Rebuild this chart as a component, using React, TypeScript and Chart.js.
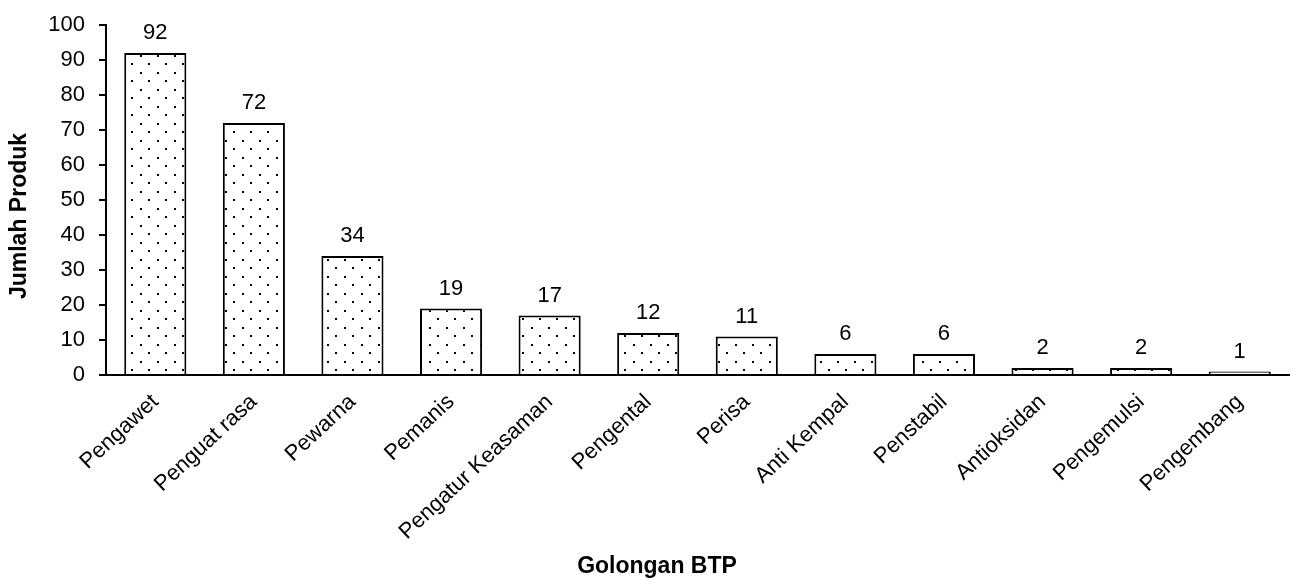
import React, { useEffect, useRef } from "react";
import { Chart, registerables } from "chart.js";

Chart.register(...registerables);

const categories = [
  "Pengawet",
  "Penguat rasa",
  "Pewarna",
  "Pemanis",
  "Pengatur Keasaman",
  "Pengental",
  "Perisa",
  "Anti Kempal",
  "Penstabil",
  "Antioksidan",
  "Pengemulsi",
  "Pengembang",
];
const values = [92, 72, 34, 19, 17, 12, 11, 6, 6, 2, 2, 1];
const yTicks = [0, 10, 20, 30, 40, 50, 60, 70, 80, 90, 100];
const xTitle = "Golongan BTP";
const yTitle = "Jumlah Produk";

const FONT = "'Liberation Sans', Arial, sans-serif";

function makePattern(): CanvasPattern | string {
  const c = document.createElement("canvas");
  c.width = 17;
  c.height = 17;
  const ctx = c.getContext("2d");
  if (!ctx) return "#fff";
  ctx.fillStyle = "#ffffff";
  ctx.fillRect(0, 0, 17, 17);
  ctx.fillStyle = "#000000";
  ctx.fillRect(4, 4, 2, 2);
  ctx.fillRect(12, 12, 2, 2);
  const p = ctx.createPattern(c, "repeat");
  return p || "#fff";
}

const valueLabels = {
  id: "valueLabels",
  afterDatasetsDraw(chart: any) {
    const ctx = chart.ctx;
    const meta = chart.getDatasetMeta(0);
    ctx.save();
    ctx.fillStyle = "#000";
    ctx.font = `22px ${FONT}`;
    ctx.textAlign = "center";
    ctx.textBaseline = "bottom";
    meta.data.forEach((bar: any, i: number) => {
      ctx.fillText(String(values[i]), bar.x, bar.y - 9);
    });
    ctx.restore();
  },
};

const axisTitles = {
  id: "axisTitles",
  afterDraw(chart: any) {
    const ctx = chart.ctx;
    ctx.save();
    ctx.fillStyle = "#000";
    ctx.font = `bold 23px ${FONT}`;
    ctx.textAlign = "center";
    ctx.textBaseline = "middle";
    ctx.fillText(xTitle, 657, 567);
    ctx.translate(20, 216);
    ctx.rotate(-Math.PI / 2);
    ctx.fillText(yTitle, 0, 0);
    ctx.restore();
  },
};

export default function App() {
  const ref = useRef<HTMLCanvasElement>(null);
  useEffect(() => {
    document.body.style.margin = "0";
    if (!ref.current) return;
    const chart = new Chart(ref.current, {
      type: "bar",
      data: {
        labels: categories,
        datasets: [
          {
            data: values,
            backgroundColor: makePattern() as any,
            borderColor: "#000",
            borderWidth: 2,
            borderSkipped: "bottom",
            barPercentage: 0.63,
            categoryPercentage: 1,
          },
        ],
      },
      options: {
        animation: false,
        responsive: false,
        maintainAspectRatio: false,
        layout: { padding: { top: 25, right: 4, left: 0, bottom: 0 } },
        plugins: {
          legend: { display: false },
          tooltip: { enabled: false },
        },
        scales: {
          x: {
            grid: { display: false, drawTicks: false },
            border: { display: true, color: "#000", width: 2 },
            ticks: {
              color: "#000",
              font: { family: FONT, size: 22 },
              maxRotation: 43,
              minRotation: 43,
              padding: 14,
              autoSkip: false,
            },
            afterFit(scale: any) {
              scale.height = 581 - 375;
            },
          },
          y: {
            min: 0,
            max: 100,
            afterBuildTicks(scale: any) {
              scale.ticks = yTicks.map((v) => ({ value: v }));
            },
            grid: {
              display: true,
              drawOnChartArea: false,
              drawTicks: true,
              tickLength: 7,
              color: "#000",
              lineWidth: 2,
            },
            border: { display: true, color: "#000", width: 2 },
            ticks: {
              color: "#000",
              font: { family: FONT, size: 22 },
              padding: 14,
            },
            afterFit(scale: any) {
              scale.width = 106;
              scale.paddingTop = 0;
              scale.paddingBottom = 0;
            },
          },
        },
      },
      plugins: [valueLabels, axisTitles],
    });
    return () => chart.destroy();
  }, []);
  return (
    <div style={{ width: 1293, height: 581 }}>
      <canvas ref={ref} width={1293} height={581} style={{ display: "block" }} />
    </div>
  );
}
